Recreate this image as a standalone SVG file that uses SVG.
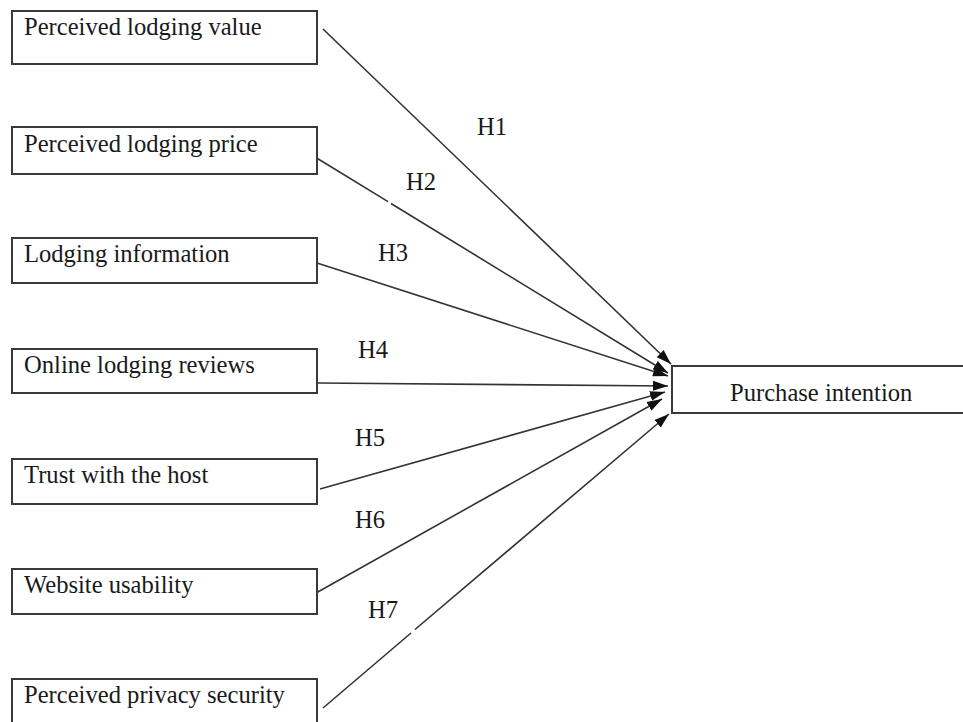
<svg xmlns="http://www.w3.org/2000/svg" width="963" height="722" viewBox="0 0 963 722">
<style>
.box{fill:#fff;stroke:#3a3a3a;stroke-width:2}
.t{font-family:"Liberation Serif","Times New Roman",serif;font-size:24.6px;fill:#1a1a1a}
.c{fill:none;stroke:#333;stroke-width:1.6;marker-end:url(#ah)}
</style>
<defs>
<marker id="ah" markerUnits="userSpaceOnUse" markerWidth="16" markerHeight="11" refX="15" refY="5" orient="auto" viewBox="0 0 16 10">
<path d="M0,0 L15,5 L0,10 z" fill="#111"/>
</marker>
</defs>
<rect width="963" height="722" fill="#fff"/>
<g id="connectors">
<path class="c" d="M323,29 L671,364"/>
<path class="c" d="M315,157 L388,201.6 M391,203.5 L668,373"/>
<path class="c" d="M317,263 L668,376"/>
<path class="c" d="M318,383 L668,386"/>
<path class="c" d="M320,489 L665,392"/>
<path class="c" d="M316,593 L662,399"/>
<path class="c" d="M323,708 L411,633 M415,629.5 L669,414"/>
</g>
<g id="labels">
<text class="t" x="477" y="135">H1</text>
<text class="t" x="406" y="190">H2</text>
<text class="t" x="378" y="261">H3</text>
<text class="t" x="358" y="358">H4</text>
<text class="t" x="355" y="446">H5</text>
<text class="t" x="355" y="528">H6</text>
<text class="t" x="368" y="618">H7</text>
</g>
<g id="n1"><rect class="box" x="12" y="11" width="305" height="53"/><text class="t" x="24" y="35">Perceived lodging value</text></g>
<g id="n2"><rect class="box" x="12" y="127" width="305" height="47"/><text class="t" x="24" y="152">Perceived lodging price</text></g>
<g id="n3"><rect class="box" x="12" y="238" width="305" height="45"/><text class="t" x="24" y="262">Lodging information</text></g>
<g id="n4"><rect class="box" x="12" y="349" width="305" height="44"/><text class="t" x="24" y="373">Online lodging reviews</text></g>
<g id="n5"><rect class="box" x="12" y="459" width="305" height="45"/><text class="t" x="24" y="483">Trust with the host</text></g>
<g id="n6"><rect class="box" x="12" y="569" width="305" height="45"/><text class="t" x="24" y="593">Website usability</text></g>
<g id="n7"><rect class="box" x="12" y="679" width="305" height="60"/><text class="t" x="24" y="703">Perceived privacy security</text></g>
<g id="target"><rect class="box" x="672" y="366" width="300" height="47"/><text class="t" x="730" y="401">Purchase intention</text></g>
</svg>
